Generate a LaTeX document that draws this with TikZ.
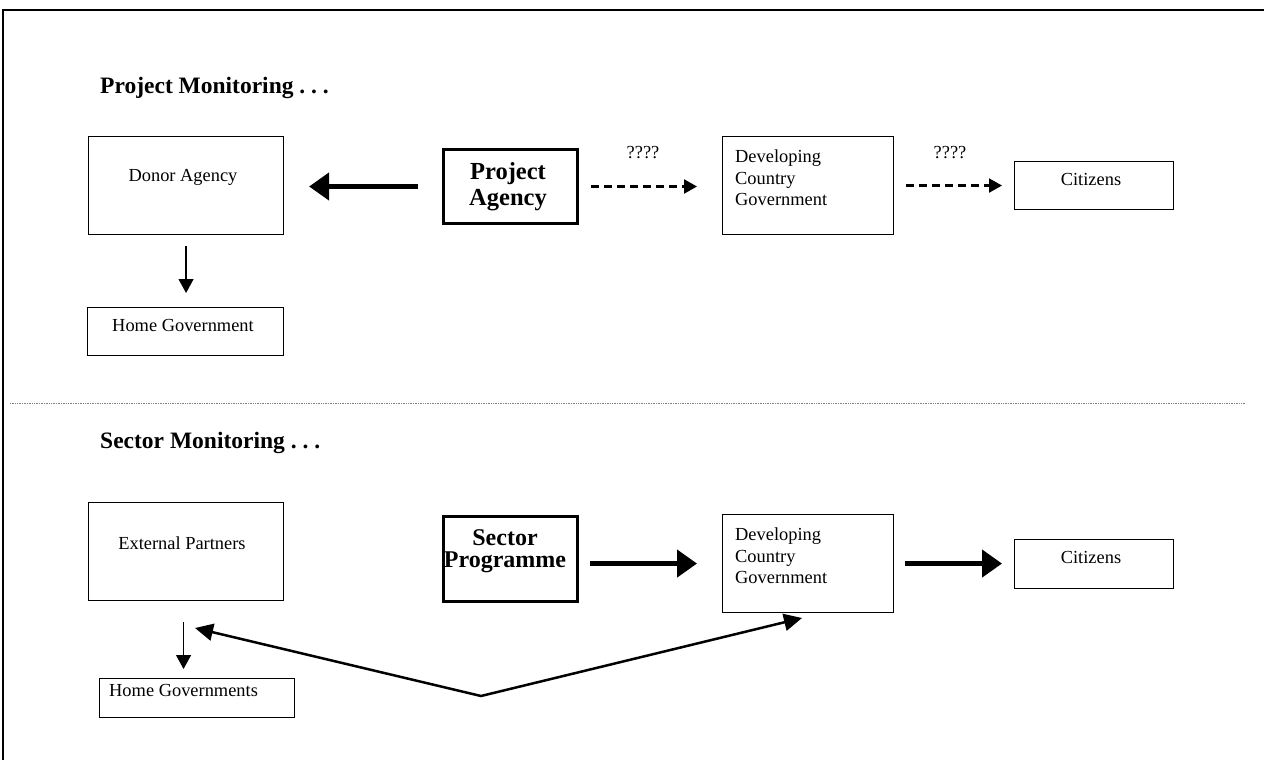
\documentclass[tikz,border=0pt]{standalone}
\usepackage{fontspec}
\setmainfont{Liberation Serif}
\usetikzlibrary{arrows.meta}
\frenchspacing
\begin{document}
\begin{tikzpicture}[x=1pt,y=-1pt,
  box/.style={draw, line width=1.1pt, inner sep=0pt, anchor=north west},
  bigbox/.style={draw, line width=3pt, inner sep=0pt, anchor=north west},
  txt/.style={font=\fontsize{18.4}{21.5}\selectfont, inner sep=0pt},
  ltxt/.style={txt, align=left, anchor=west},
  btxt/.style={font=\bfseries\fontsize{24.5}{26}\selectfont, inner sep=0pt, align=center},
  ttl/.style={font=\bfseries\fontsize{23.5}{26}\selectfont, inner sep=0pt, anchor=west},
  fat/.style={line width=4.5pt, -{Triangle[length=20pt,width=27pt]}},
  dasharrow/.style={line width=2.2pt, dash pattern=on 8pt off 5pt, -{Triangle[length=13pt,width=14pt]}},
  thinarrow/.style={line width=1.2pt, -{Triangle[length=14pt,width=15pt]}},
  varrow/.style={line width=2.5pt, line join=miter, {Triangle[length=18pt,width=17pt]}-{Triangle[length=18pt,width=17pt]}}
]
\useasboundingbox (0,0) rectangle (1264,760);
% outer frame
\draw[line width=2pt] (3,760) -- (3,10) -- (1264,10);
% separator
\draw[gray, line width=0.7pt, densely dotted] (10,403) -- (1245,403);

% ---------- Project monitoring ----------
\node[ttl] (t1) at (100,88) {Project Monitoring . . .};
\node[box, minimum width=195pt, minimum height=98pt] (donor) at (88,136) {};
\node[txt] (tdonor) at (183,177) {Donor Agency};
\node[box, minimum width=196pt, minimum height=48pt] (hg) at (87,307) {};
\node[txt] (thg) at (183,325) {Home Government};
\node[bigbox, minimum width=134pt, minimum height=74pt] (pa) at (442,148) {};
\node[btxt] (tpa) at (508,187) {Project\\Agency};
\node[box, minimum width=171pt, minimum height=98pt] (dcg) at (722,136) {};
\node[ltxt] (tdcg) at (735,178) {Developing\\Country\\Government};
\node[box, minimum width=159pt, minimum height=48pt] (cit) at (1014,161) {};
\node[txt] (tcit) at (1091,179) {Citizens};
\node[txt] (q1) at (643,153) {????};
\node[txt] (q2) at (950,153) {????};

\draw[fat, shorten <=24pt, shorten >=25pt] (pa.west) -- (pa.west -| donor.east);
\draw[dasharrow, shorten <=12pt, shorten >=25pt] (pa.east) -- (pa.east -| dcg.west);
\draw[dasharrow, shorten <=12pt, shorten >=12pt] (dcg.east) -- (dcg.east -| cit.west);
\draw[thinarrow, shorten <=11pt, shorten >=14pt] (donor.south) -- (donor.south |- hg.north);

% ---------- Sector monitoring ----------
\node[ttl] (t2) at (100,443) {Sector Monitoring . . .};
\node[box, minimum width=195pt, minimum height=98pt] (ep) at (88,502) {};
\node[txt] (tep) at (182,543) {External Partners};
\node[box, minimum width=195pt, minimum height=39pt] (hgs) at (99,678) {};
\node[txt, anchor=west] (thgs) at (109,690) {Home Governments};
\node[bigbox, minimum width=134pt, minimum height=85pt] (sp) at (442,515) {};
\node[btxt, font=\bfseries\fontsize{24}{22}\selectfont] (tsp) at (505,551) {Sector\\Programme};
\node[box, minimum width=171pt, minimum height=98pt] (dcg2) at (722,514) {};
\node[ltxt] (tdcg2) at (735,556) {Developing\\Country\\Government};
\node[box, minimum width=159pt, minimum height=49pt] (cit2) at (1014,539) {};
\node[txt] (tcit2) at (1091,557) {Citizens};

\draw[fat, shorten <=11pt, shorten >=25pt] (sp.east |- dcg2.west) -- (dcg2.west);
\draw[fat, shorten <=11pt, shorten >=12pt] (dcg2.east) -- (dcg2.east -| cit2.west);
\draw[thinarrow, shorten <=21pt, shorten >=9pt] ([xshift=-2.5pt]ep.south) -- ([xshift=-2.5pt]ep.south |- hgs.north);

\coordinate (apex) at (481,696);
\coordinate (tipL) at (195,628);
\coordinate (tipR) at (802,618);
\draw[varrow] (tipL) -- (apex) -- (tipR);
\end{tikzpicture}
\end{document}
